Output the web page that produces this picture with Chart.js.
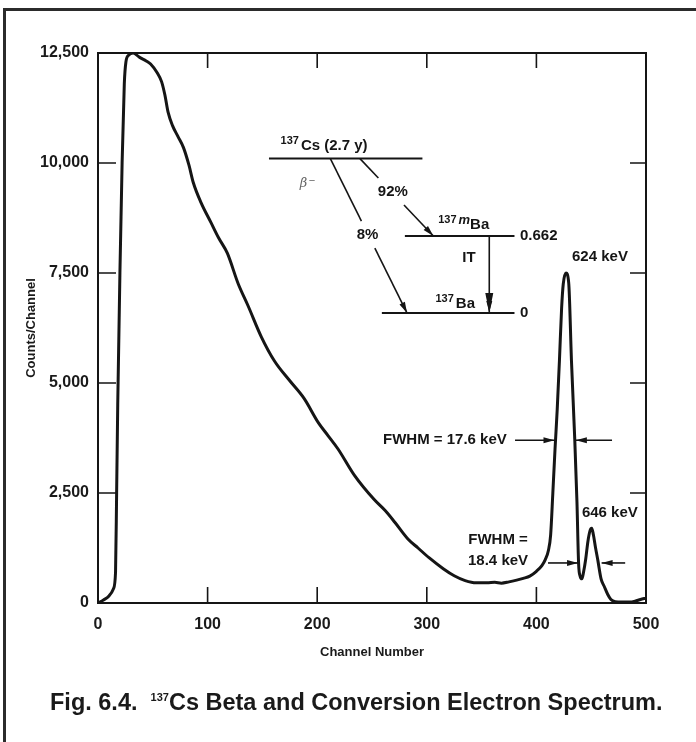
<!DOCTYPE html>
<html>
<head>
<meta charset="utf-8">
<script src="https://cdn.jsdelivr.net/npm/chart.js@4.4.0/dist/chart.umd.min.js"></script>
<style>
  html, body { margin: 0; padding: 0; background: #fff; }
  #wrap { position: relative; width: 696px; height: 742px; overflow: hidden; }
  #frame { position: absolute; left: 3px; top: 8px; width: 700px; height: 740px;
           border-top: 3px solid #2b2b2b; border-left: 3px solid #2b2b2b; }
  #grafico { position: absolute; left: 0; top: 0; }
  #didascalia { position: absolute; left: 50px; top: 689px; white-space: nowrap;
                font: bold 23.5px "Liberation Sans", Arial, sans-serif; color: #1a1a1a; }
  #didascalia sup { font-size: 11px; vertical-align: 9px; line-height: 0; }
</style>
</head>
<body>
<div id="wrap">
  <div id="frame"></div>
  <canvas id="grafico" width="696" height="742"></canvas>
  <div id="didascalia">Fig. 6.4.&nbsp; <sup>137</sup>Cs Beta and Conversion Electron Spectrum.</div>
</div>
<script>
// Canali e conteggi
const canali = [0, 5, 10, 14, 16, 17, 18, 20, 22, 24, 25.5, 28, 32, 38, 44, 48, 54, 58, 61, 64, 68, 73, 78, 83, 87, 94,
  103, 110, 118, 128, 137, 149, 161, 175, 188, 201, 210, 219, 234, 252, 262, 271, 283, 292, 302, 315, 325, 335, 345,
  355, 362, 368, 375, 382, 388, 394, 400, 405, 408, 411, 413, 415, 417, 419, 421, 423, 424.5, 427, 429.5, 432, 435,
  437, 438.5, 440, 441.5, 443, 445, 447, 449, 450.5, 452, 454, 456, 459, 462, 465, 468, 472, 478, 485, 490, 495, 500];
const conteggi = [0, 70, 160, 320, 700, 2500, 4500, 7500, 10000, 11800, 12300, 12450, 12500, 12400, 12320, 12250,
  12050, 11850, 11550, 11150, 10850, 10600, 10350, 9950, 9550, 9100, 8650, 8300, 7950, 7250, 6750, 6050, 5500, 5050,
  4650, 4100, 3800, 3500, 2900, 2350, 2100, 1830, 1450, 1250, 1030, 780, 620, 510, 460, 460, 470, 450, 480, 520, 560,
  610, 720, 850, 980, 1200, 1550, 2500, 3500, 4400, 5500, 6700, 7250, 7500, 7270, 5500, 3720, 2300, 900, 600, 550,
  700, 1000, 1400, 1650, 1700, 1550, 1250, 980, 550, 370, 200, 80, 30, 20, 20, 40, 80, 110];

// Tacche degli assi
const tacche_x = [0, 100, 200, 300, 400, 500];
const tacche_y = [0, 2500, 5000, 7500, 10000, 12500];

// Schema di decadimento (coordinate in canali / conteggi)
const livelli = [
  { x1: 156, x2: 296, y: 10100 },   // 137Cs
  { x1: 280, x2: 380, y: 8340 },    // 137mBa
  { x1: 259, x2: 380, y: 6590 }     // 137Ba
];
const frecce = [
  { da: [212, 10100], a: [282, 6590], etichetta: '8%', ex: 246, ey: 8360 },
  { da: [239, 10100], a: [306, 8340], etichetta: '92%', ex: 269, ey: 9340 }
];

const nero = '#151515';
const font_etichette = 'bold 15px "Liberation Sans", Arial, sans-serif';

// Disegna cornice, tacche interne e annotazioni
const annotazioni = {
  id: 'annotazioni',
  afterDatasetsDraw(chart) {
    const ctx = chart.ctx;
    const a = chart.chartArea;
    const sx = chart.scales.x, sy = chart.scales.y;
    const X = v => sx.getPixelForValue(v);
    const Y = v => sy.getPixelForValue(v);
    ctx.save();
    ctx.strokeStyle = nero;
    ctx.fillStyle = nero;
    ctx.lineWidth = 2;
    ctx.strokeRect(a.left, a.top, a.right - a.left, a.bottom - a.top);

    // tacche interne
    ctx.lineWidth = 1.6;
    ctx.beginPath();
    tacche_x.slice(1, -1).forEach(v => {
      ctx.moveTo(X(v), a.bottom); ctx.lineTo(X(v), a.bottom - 16);
      ctx.moveTo(X(v), a.top); ctx.lineTo(X(v), a.top + 15);
    });
    tacche_y.slice(1, -1).forEach(v => {
      ctx.moveTo(a.left, Y(v)); ctx.lineTo(a.left + 18, Y(v));
      ctx.moveTo(a.right, Y(v)); ctx.lineTo(a.right - 16, Y(v));
    });
    ctx.stroke();

    // livelli
    ctx.lineWidth = 2;
    ctx.beginPath();
    livelli.forEach(l => { ctx.moveTo(X(l.x1), Y(l.y)); ctx.lineTo(X(l.x2), Y(l.y)); });
    ctx.stroke();

    function punta(x1, y1, x2, y2, lung, larg) {
      const ang = Math.atan2(y2 - y1, x2 - x1);
      ctx.beginPath();
      ctx.moveTo(x2, y2);
      ctx.lineTo(x2 - lung * Math.cos(ang) + larg * Math.sin(ang), y2 - lung * Math.sin(ang) - larg * Math.cos(ang));
      ctx.lineTo(x2 - lung * Math.cos(ang) - larg * Math.sin(ang), y2 - lung * Math.sin(ang) + larg * Math.cos(ang));
      ctx.closePath();
      ctx.fill();
    }
    function freccia(x1, y1, x2, y2) {
      ctx.lineWidth = 1.6;
      ctx.beginPath(); ctx.moveTo(x1, y1); ctx.lineTo(x2, y2); ctx.stroke();
      punta(x1, y1, x2, y2, 11, 3);
    }

    // frecce beta con etichetta che interrompe la linea
    ctx.font = font_etichette;
    ctx.textAlign = 'center';
    ctx.textBaseline = 'middle';
    frecce.forEach(f => {
      const x1 = X(f.da[0]), y1 = Y(f.da[1]), x2 = X(f.a[0]), y2 = Y(f.a[1]);
      const ex = X(f.ex), ey = Y(f.ey);
      const t1 = (ey - 14 - y1) / (y2 - y1), t2 = (ey + 13 - y1) / (y2 - y1);
      ctx.lineWidth = 1.6;
      ctx.beginPath();
      ctx.moveTo(x1, y1); ctx.lineTo(x1 + (x2 - x1) * t1, y1 + (y2 - y1) * t1);
      ctx.stroke();
      freccia(x1 + (x2 - x1) * t2, y1 + (y2 - y1) * t2, x2, y2);
      ctx.fillText(f.etichetta, ex, ey);
    });

    // transizione isomerica
    freccia(X(357), Y(8340), X(357), Y(6590) - 1);
    punta(X(357), Y(8340), X(357), Y(6590), 20, 4);
    ctx.fillText('IT', X(338.5), Y(7840));

    // nomi dei livelli con apice
    function nuclide(xDestra, yBase, massa, corsivo, simbolo) {
      ctx.textBaseline = 'alphabetic';
      ctx.textAlign = 'left';
      const fs = 'bold 11px "Liberation Sans", Arial, sans-serif';
      const fc = 'italic bold 13px "Liberation Sans", Arial, sans-serif';
      ctx.font = font_etichette; const w3 = ctx.measureText(simbolo).width;
      ctx.font = fc; const w2 = corsivo ? ctx.measureText(corsivo).width : 0;
      ctx.font = fs; const w1 = ctx.measureText(massa).width;
      let x = xDestra - w3 - w2 - w1 - 2;
      ctx.font = fs; ctx.fillText(massa, x, yBase - 6); x += w1 + 2;
      if (corsivo) { ctx.font = fc; ctx.fillText(corsivo, x, yBase - 5); x += w2; }
      ctx.font = font_etichette; ctx.fillText(simbolo, x, yBase);
    }
    nuclide(X(246), Y(10290), '137', '', 'Cs (2.7 y)');
    nuclide(X(357), Y(8500), '137', 'm', 'Ba');
    nuclide(X(344), Y(6700), '137', '', 'Ba');

    ctx.font = font_etichette;
    ctx.textAlign = 'left';
    ctx.textBaseline = 'middle';
    ctx.fillText('0.662', X(385), Y(8340));
    ctx.fillText('0', X(385), Y(6590));

    // beta meno
    ctx.fillStyle = '#666';
    ctx.font = 'italic 13px "DejaVu Serif", serif';
    ctx.fillText('\u03b2', X(184), Y(9530));
    ctx.font = '11px "Liberation Sans", Arial, sans-serif';
    ctx.fillText('\u2212', X(184) + 9, Y(9600));
    ctx.fillStyle = nero;

    // picchi
    ctx.font = font_etichette;
    ctx.textAlign = 'center';
    ctx.fillText('624 keV', X(458), Y(7860));
    ctx.fillText('646 keV', X(467), Y(2045));
    ctx.fillText('FWHM =', X(365), Y(1430));
    ctx.fillText('18.4 keV', X(365), Y(955));
    ctx.textAlign = 'right';
    ctx.fillText('FWHM = 17.6 keV', X(373), Y(3700));

    freccia(X(380.5), Y(3700), X(416.5), Y(3700));
    freccia(X(469), Y(3700), X(436), Y(3700));
    freccia(X(410.6), Y(910), X(438), Y(910));
    freccia(X(481), Y(910), X(459.5), Y(910));
    ctx.restore();
  }
};

const grafico = new Chart(document.getElementById('grafico'), {
  type: 'line',
  data: {
    datasets: [{
      data: canali.map((c, i) => ({ x: c, y: conteggi[i] })),
      borderColor: nero,
      borderWidth: 3,
      pointRadius: 0,
      cubicInterpolationMode: 'monotone',
      fill: false
    }]
  },
  options: {
    responsive: false,
    animation: false,
    layout: { padding: { left: 0, top: 53, right: 50, bottom: 0 } },
    plugins: { legend: { display: false }, tooltip: { enabled: false } },
    scales: {
      x: {
        type: 'linear', min: 0, max: 500,
        afterBuildTicks: s => { s.ticks = tacche_x.map(v => ({ value: v })); },
        afterFit: s => { s.height = 139; },
        grid: { display: false, drawTicks: false },
        border: { display: false },
        ticks: { padding: 12, color: '#1a1a1a', font: { family: '"Liberation Sans", Arial', size: 16, weight: 'bold' } },
        title: { display: true, text: 'Channel Number', color: '#1a1a1a',
                 padding: { top: 0, bottom: 82 },
                 font: { family: '"Liberation Sans", Arial', size: 13, weight: 'bold' } }
      },
      y: {
        min: 0, max: 12500,
        afterBuildTicks: s => { s.ticks = tacche_y.map(v => ({ value: v })); },
        afterFit: s => { s.width = 98; },
        grid: { display: false, drawTicks: false },
        border: { display: false },
        ticks: { padding: 9, color: '#1a1a1a', callback: v => v.toLocaleString('en-US'),
                 font: { family: '"Liberation Sans", Arial', size: 16, weight: 'bold' } },
        title: { display: true, text: 'Counts/Channel', color: '#1a1a1a',
                 padding: { top: 24, bottom: 0 },
                 font: { family: '"Liberation Sans", Arial', size: 13, weight: 'bold' } }
      }
    }
  },
  plugins: [annotazioni]
});
</script>
</body>
</html>
